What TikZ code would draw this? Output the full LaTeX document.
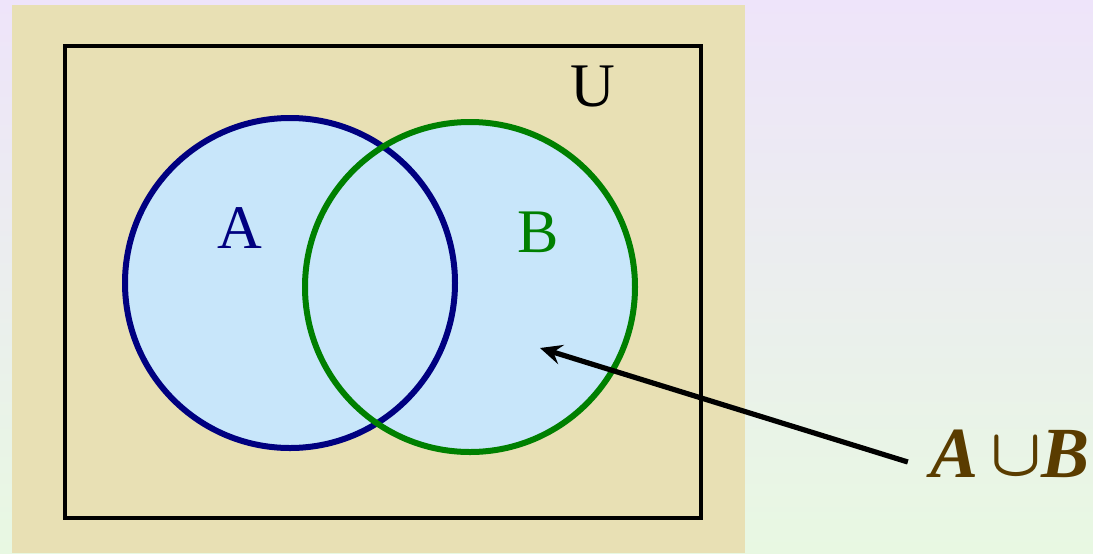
\documentclass[tikz,border=0pt]{standalone}
\usepackage{amsmath}
\usepackage{fontspec}
\setmainfont{Liberation Serif}
\usetikzlibrary{positioning,arrows.meta}
\definecolor{panel}{RGB}{232,224,180}
\definecolor{vennfill}{RGB}{200,230,250}
\definecolor{navyA}{RGB}{0,0,128}
\definecolor{greenB}{RGB}{0,128,0}
\definecolor{brownU}{RGB}{90,60,0}

\begin{document}
\begin{tikzpicture}[
  x=0.5pt,y=-0.5pt,
  >={Stealth[length=11pt,width=10pt,inset=4pt]},
  setc/.style={circle,minimum size=165pt,inner sep=0pt,line width=3pt},
  setlbl/.style={font=\fontsize{31}{36}\selectfont},
  arr/.style={->,line width=2.6pt},
]
\useasboundingbox (0,0) rectangle (1093,553);

% backdrop and panel
\shade[top color={rgb,255:red,238;green,228;blue,250},middle color={rgb,255:red,228;green,248;blue,250},bottom color={rgb,255:red,232;green,248;blue,226}] (0,0) rectangle (1093,553);
\fill[panel] (12,5) rectangle (745,553);
\draw[line width=1.6pt] (65,46) rectangle (701,518);

% the two sets
\fill[vennfill] (290,283) circle[radius=166] (470,287) circle[radius=166];
\node[setc,draw=navyA]  (A) at (290,283) {};
\node[setc,draw=greenB] (B) at (470,287) {};

% labels
\node[setlbl,text=navyA]  (lA) at (240,228) {A};
\node[setlbl,text=greenB] (lB) at (538,232) {B};
\node[setlbl]             (lU) at (593,86)  {U};

% union and its pointer
\node[text=brownU,font=\fontsize{36}{40}\selectfont\bfseries\itshape,inner sep=1pt] (union) at (1010,454)
  {A\,\raisebox{1pt}{\scalebox{1.35}{$\boldsymbol{\cup}$}}B};
\coordinate (tip) at (540,348);
\draw[arr] ([xshift=-10,yshift=-4]union.west) -- (tip);
\end{tikzpicture}
\end{document}
